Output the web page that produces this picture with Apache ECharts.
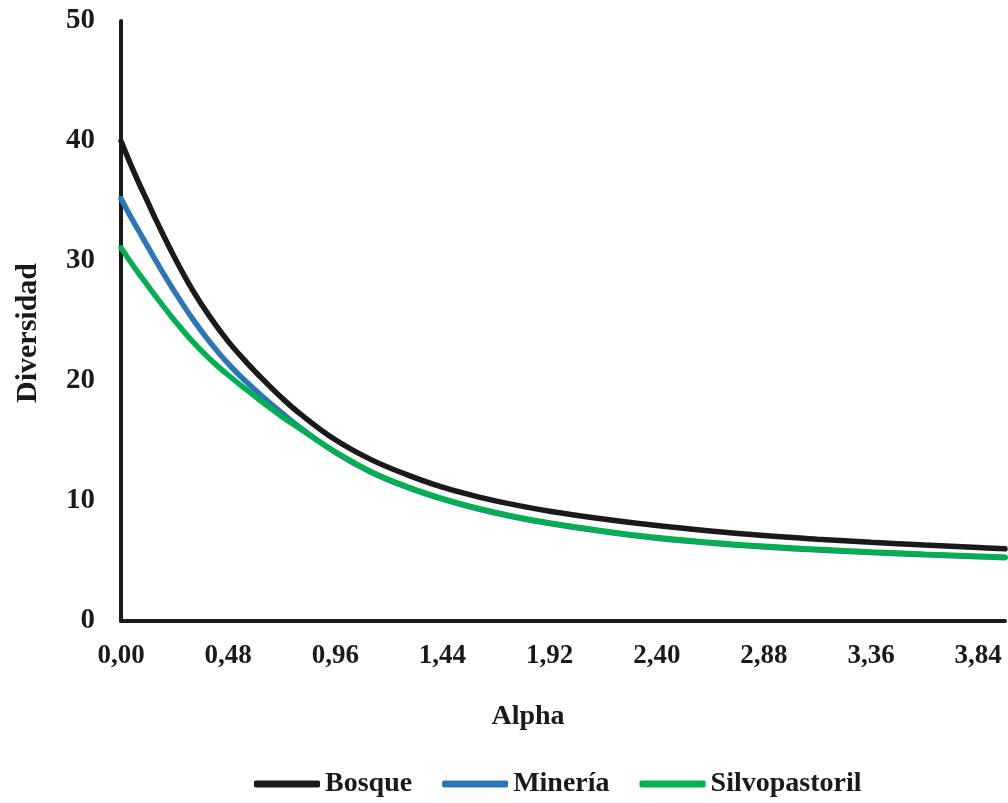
<!DOCTYPE html>
<html>
<head>
<meta charset="utf-8">
<script src="https://cdn.jsdelivr.net/npm/echarts@6/dist/echarts.min.js"></script>
<style>html,body{margin:0;padding:0;background:#fff;}#c{width:1008px;height:803px;}</style>
</head>
<body>
<div id="c"></div>
<script>
var alphas = [0, 0.04, 0.08, 0.12, 0.16, 0.24, 0.32, 0.40, 0.48, 0.56, 0.64, 0.72, 0.80, 0.96, 1.12, 1.28, 1.44, 1.60, 1.76, 1.92, 2.16, 2.40, 2.64, 2.88, 3.12, 3.36, 3.60, 3.84, 3.96];
var bosque = [40.0, 38.2, 36.5, 34.9, 33.3, 30.3, 27.6, 25.3, 23.3, 21.6, 20.05, 18.6, 17.3, 15.1, 13.45, 12.2, 11.15, 10.35, 9.7, 9.15, 8.5, 7.95, 7.5, 7.12, 6.82, 6.56, 6.33, 6.12, 6.02];
var mineria = [35.2, 33.8, 32.5, 31.2, 29.9, 27.45, 25.2, 23.2, 21.45, 19.95, 18.6, 17.35, 16.15, 14.05, 12.4, 11.15, 10.15, 9.33, 8.67, 8.12, 7.45, 6.9, 6.5, 6.17, 5.92, 5.71, 5.52, 5.35, 5.27];
var silvopastoril = [31.1, 30.0, 28.95, 27.95, 26.95, 25.05, 23.3, 21.8, 20.5, 19.3, 18.15, 17.05, 16.05, 14.1, 12.45, 11.2, 10.2, 9.38, 8.72, 8.17, 7.5, 6.95, 6.55, 6.22, 5.97, 5.76, 5.57, 5.4, 5.32];
var yTicks = {min: 0, max: 50, interval: 10};
var xTicks = {min: 0, max: 3.96, interval: 0.48};

function pairs(vals) { return alphas.map(function (a, i) { return [a, vals[i]]; }); }

var font = '"Liberation Serif", "Times New Roman", serif';
var ink = '#1a1a1a';
var chart = echarts.init(document.getElementById('c'));
chart.setOption({
  animation: false,
  grid: {left: 121, right: 3, top: 21, bottom: 182},
  xAxis: {
    type: 'value', min: xTicks.min, max: xTicks.max, interval: xTicks.interval,
    name: 'Alpha', nameLocation: 'middle', nameGap: 82,
    nameTextStyle: {fontFamily: font, fontWeight: 'bold', fontSize: 28, color: ink, padding: [0, 70, 0, 0]},
    axisLine: {show: true, lineStyle: {color: ink, width: 4}},
    axisTick: {show: false},
    splitLine: {show: false},
    axisLabel: {
      showMaxLabel: false, margin: 22,
      fontFamily: font, fontWeight: 'bold', fontSize: 27, color: ink,
      formatter: function (v) { return v.toFixed(2).replace('.', ','); }
    }
  },
  yAxis: {
    type: 'value', min: yTicks.min, max: yTicks.max, interval: yTicks.interval,
    name: 'Diversidad', nameLocation: 'middle', nameGap: 78, nameRotate: 90,
    nameTextStyle: {fontFamily: font, fontWeight: 'bold', fontSize: 30, color: ink, padding: [0, 24, 0, 0]},
    axisLine: {show: true, lineStyle: {color: ink, width: 4}},
    axisTick: {show: false},
    splitLine: {show: false},
    axisLabel: {margin: 26, fontFamily: font, fontWeight: 'bold', fontSize: 29, color: ink}
  },
  legend: {
    left: 254, top: 770, padding: 0, icon: 'roundRect', itemWidth: 66, itemHeight: 7, itemGap: 30,
    textStyle: {fontFamily: font, fontWeight: 'bold', fontSize: 28, color: ink},
    data: ['Bosque', 'Minería', 'Silvopastoril']
  },
  series: [
    {name: 'Bosque', type: 'line', data: pairs(bosque), smooth: 0.4, showSymbol: false, color: ink, lineStyle: {width: 5.5, cap: 'round'}},
    {name: 'Minería', type: 'line', data: pairs(mineria), smooth: 0.4, showSymbol: false, color: '#2e75b6', lineStyle: {width: 5.5, cap: 'round'}},
    {name: 'Silvopastoril', type: 'line', data: pairs(silvopastoril), smooth: 0.4, showSymbol: false, color: '#00b050', lineStyle: {width: 5.5, cap: 'round'}}
  ]
});
</script>
</body>
</html>
